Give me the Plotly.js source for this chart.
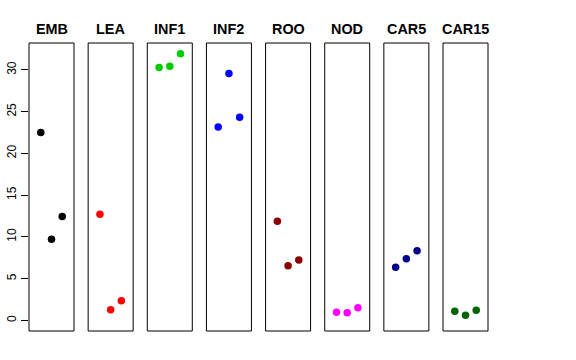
<!DOCTYPE html>
<html>
<head>
<meta charset="utf-8">
<script src="https://cdn.plot.ly/plotly-3.0.1.min.js"></script>
<style>html,body{margin:0;padding:0;background:#fff;}#chart{width:576px;height:360px;}</style>
</head>
<body>
<div id="chart"></div>
<script>
const categories = ["EMB", "LEA", "INF1", "INF2", "ROO", "NOD", "CAR5", "CAR15"];
const replicate = [1, 2, 3];
const EMB = [22.5, 9.7, 12.45];
const LEA = [12.7, 1.27, 2.35];
const INF1 = [30.28, 30.44, 31.95];
const INF2 = [23.17, 29.56, 24.33];
const ROO = [11.87, 6.55, 7.23];
const NOD = [0.96, 0.91, 1.51];
const CAR5 = [6.35, 7.38, 8.34];
const CAR15 = [1.08, 0.6, 1.2];
const seriesValues = [EMB, LEA, INF1, INF2, ROO, NOD, CAR5, CAR15];
const colors = ["#000000", "#FF0000", "#00CD00", "#0000FF", "#8B0000", "#FF00FF", "#00008B", "#006400"];
const yTicks = [0, 5, 10, 15, 20, 25, 30];

const W = 576, H = 360;
const plotL = 29, plotR = 488, plotT = 43, plotB = 330.7;
const plotW = plotR - plotL, plotH = plotB - plotT;
const panelW = 45, step = (plotR - plotL - panelW) / 7;

const ymax = Math.max(...seriesValues.flat());
const ymin = 0;
const yr = ymax - ymin;

const traces = [];
const layout = {
  width: W, height: H,
  margin: {l: plotL, r: W - plotR, t: plotT, b: H - plotB, pad: 0},
  paper_bgcolor: "#fff", plot_bgcolor: "rgba(0,0,0,0)",
  showlegend: false,
  font: {family: "Liberation Sans, Arial, sans-serif", color: "#000"},
  yaxis: {
    range: [ymin - 0.04 * yr, ymax + 0.04 * yr],
    tickvals: yTicks, ticktext: yTicks.map(String),
    ticks: "outside", ticklen: 7, tickwidth: 1, tickcolor: "#000",
    tickangle: -90, tickfont: {size: 12, color: "#000"},
    showgrid: false, zeroline: false, showline: false,
    anchor: "x", fixedrange: true
  },
  shapes: [], annotations: []
};

categories.forEach((cat, i) => {
  const ax = i === 0 ? "x" : "x" + (i + 1);
  const axKey = i === 0 ? "xaxis" : "xaxis" + (i + 1);
  const left = (i * step) / plotW;
  const right = (i * step + panelW) / plotW;
  layout[axKey] = {
    domain: [left, right], anchor: "y",
    range: [-0.1, 4.1],
    showgrid: false, zeroline: false, showline: false,
    showticklabels: false, ticks: "", fixedrange: true
  };
  traces.push({
    type: "scatter", mode: "markers",
    x: replicate, y: seriesValues[i],
    xaxis: ax, yaxis: "y",
    marker: {color: colors[i], size: 7.5, line: {width: 0}},
    hoverinfo: "skip"
  });
  layout.shapes.push({
    type: "rect", xref: ax + " domain", yref: "y domain",
    x0: 0, x1: 1, y0: 0, y1: 1,
    line: {color: "#000", width: 1}, fillcolor: "rgba(0,0,0,0)"
  });
  layout.annotations.push({
    text: "<b>" + cat + "</b>", xref: ax + " domain", yref: "paper",
    x: 0.5, y: 1 + (plotT - 29.5) / plotH, xanchor: "center", yanchor: "middle",
    showarrow: false, font: {size: 14.4, color: "#000", family: "Liberation Sans, Arial, sans-serif"}
  });
});

Plotly.newPlot("chart", traces, layout, {staticPlot: true, displayModeBar: false});
</script>
</body>
</html>
